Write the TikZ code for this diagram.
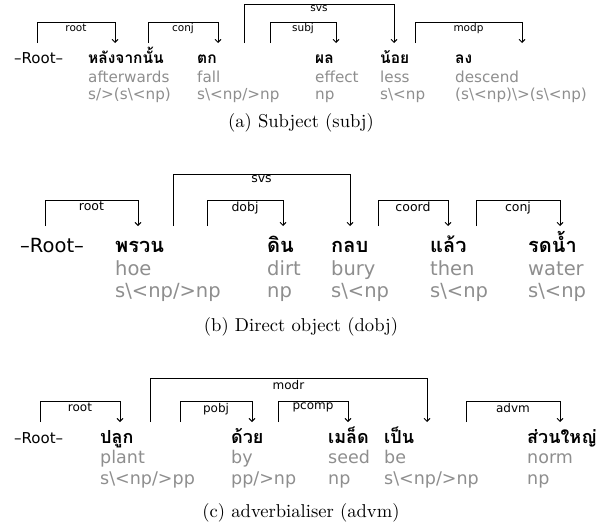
\documentclass[tikz,border=0pt]{standalone}
\usepackage{fontspec}
\newfontfamily\wf{DejaVu Sans}
\newfontfamily\thai[Script=Thai]{Loma}
\usetikzlibrary{arrows.meta}
\definecolor{glossgray}{HTML}{8E8E8E}
\tikzset{
  deparc/.style={line width=0.9pt, -{Straight Barb[length=3pt,width=6pt]}},
  arclab/.style={anchor=north, inner sep=1.5pt},
  word/.style={anchor=base west, inner sep=0pt},
  thw/.style={word, font=\thai\bfseries},
  gl/.style={word, text=glossgray},
  captext/.style={anchor=base, inner sep=0pt, scale=1.86, font=\fontsize{10}{12}\selectfont}
}
\newcommand\deparc[7]{%
  \coordinate (#1-t) at (#2,#4);
  \coordinate (#1-h) at (#3,#4);
  \draw[deparc] (#1-t) -- (#2,#5) -- node[arclab,font=#7] (#1-l) {#6} (#3,#5) -- (#1-h);
}
\begin{document}
\begin{tikzpicture}[x=1pt,y={(0pt,-1pt)}]
\useasboundingbox (0,0) rectangle (603,530);
% ---------- (a)
\begin{scope}
\def\fa{\wf\fontsize{15.2}{18}\selectfont}
\def\la{\wf\fontsize{10.5}{12}\selectfont}
\def\ta{\thai\bfseries\fontsize{15.5}{18}\selectfont}
\node[word,font=\wf\fontsize{15}{18}\selectfont] (a0) at (14,63) {–Root–};
\node[thw,font=\ta] (a1) at (88,63) {หลังจากนั้น};
\node[thw,font=\ta] (a2) at (197,63) {ตก};
\node[thw,font=\ta] (a3) at (315,63) {ผล};
\node[thw,font=\ta] (a4) at (380,63) {น้อย};
\node[thw,font=\ta] (a5) at (455,63) {ลง};
\node[gl,font=\fa] (a1g) at (88,82) {afterwards};
\node[gl,font=\fa] (a2g) at (197,82) {fall};
\node[gl,font=\fa] (a3g) at (315,82) {effect};
\node[gl,font=\fa] (a4g) at (380,82) {less};
\node[gl,font=\fa] (a5g) at (455,82) {descend};
\node[gl,font=\fa] (a1c) at (88,99) {s/>(s\textbackslash<np)};
\node[gl,font=\fa] (a2c) at (197,99) {s\textbackslash<np/>np};
\node[gl,font=\fa] (a3c) at (315,99) {np};
\node[gl,font=\fa] (a4c) at (380,99) {s\textbackslash<np};
\node[gl,font=\fa] (a5c) at (455,99) {(s\textbackslash<np)\textbackslash>(s\textbackslash<np)};
\deparc{aroot}{37}{115}{43}{22}{root}{\la}
\deparc{aconj}{148}{218}{43}{22}{conj}{\la}
\deparc{asvs}{244}{394}{43}{4}{svs}{\la}
\deparc{asubj}{270}{336}{43}{22}{subj}{\la}
\deparc{amodp}{415}{522}{43}{22}{modp}{\la}
\node[captext] (capa) at (301,127) {(a) Subject (subj)};
\end{scope}
% ---------- (b)
\begin{scope}
\def\fb{\wf\fontsize{19.5}{22}\selectfont}
\def\lb{\wf\fontsize{12.5}{14}\selectfont}
\def\tb{\thai\bfseries\fontsize{20}{22}\selectfont}
\node[word,font=\fb] (b0) at (20,252) {–Root–};
\node[thw,font=\tb] (b1) at (115,252) {พรวน};
\node[thw,font=\tb] (b2) at (267,252) {ดิน};
\node[thw,font=\tb] (b3) at (331,252) {กลบ};
\node[thw,font=\tb] (b4) at (430,252) {แล้ว};
\node[thw,font=\tb] (b5) at (528,252) {รดน้ำ};
\node[gl,font=\fb] (b1g) at (115,275) {hoe};
\node[gl,font=\fb] (b2g) at (267,275) {dirt};
\node[gl,font=\fb] (b3g) at (331,275) {bury};
\node[gl,font=\fb] (b4g) at (430,275) {then};
\node[gl,font=\fb] (b5g) at (528,275) {water};
\node[gl,font=\fb] (b1c) at (115,297) {s\textbackslash<np/>np};
\node[gl,font=\fb] (b2c) at (267,297) {np};
\node[gl,font=\fb] (b3c) at (331,297) {s\textbackslash<np};
\node[gl,font=\fb] (b4c) at (430,297) {s\textbackslash<np};
\node[gl,font=\fb] (b5c) at (528,297) {s\textbackslash<np};
\deparc{broot}{45}{138}{226}{200}{root}{\lb}
\deparc{bsvs}{173}{350}{226}{174}{svs}{\lb}
\deparc{bdobj}{207}{283}{226}{200}{dobj}{\lb}
\deparc{bcoord}{378}{448}{226}{200}{coord}{\lb}
\deparc{bconj}{476}{560}{226}{200}{conj}{\lb}
\node[captext] (capb) at (301,331) {(b) Direct object (dobj)};
\end{scope}
% ---------- (c)
\begin{scope}
\def\fc{\wf\fontsize{17.5}{20}\selectfont}
\def\lc{\wf\fontsize{12}{14}\selectfont}
\def\tc{\thai\bfseries\fontsize{18}{20}\selectfont}
\node[word,font=\wf\fontsize{15}{18}\selectfont] (c0) at (14,443) {–Root–};
\node[thw,font=\tc] (c1) at (100,443) {ปลูก};
\node[thw,font=\tc] (c2) at (231,443) {ด้วย};
\node[thw,font=\tc] (c3) at (328,443) {เมล็ด};
\node[thw,font=\tc] (c4) at (384,443) {เป็น};
\node[thw,font=\tc] (c5) at (527,443) {ส่วนใหญ่};
\node[gl,font=\fc] (c1g) at (100,463) {plant};
\node[gl,font=\fc] (c2g) at (231,463) {by};
\node[gl,font=\fc] (c3g) at (328,463) {seed};
\node[gl,font=\fc] (c4g) at (384,463) {be};
\node[gl,font=\fc] (c5g) at (527,463) {norm};
\node[gl,font=\fc] (c1c) at (100,484) {s\textbackslash<np/>pp};
\node[gl,font=\fc] (c2c) at (231,484) {pp/>np};
\node[gl,font=\fc] (c3c) at (328,484) {np};
\node[gl,font=\fc] (c4c) at (384,484) {s\textbackslash<np/>np};
\node[gl,font=\fc] (c5c) at (527,484) {np};
\deparc{croot}{40}{120}{422}{401}{root}{\lc}
\deparc{cmodr}{150}{427}{422}{378}{modr}{\lc}
\deparc{cpobj}{180}{252}{422}{401}{pobj}{\lc}
\deparc{cpcomp}{278}{348}{422}{401}{pcomp}{\lc}
\deparc{cadvm}{466}{560}{422}{401}{advm}{\lc}
\node[captext] (capc) at (301,517) {(c) adverbialiser (advm)};
\end{scope}
\end{tikzpicture}
\end{document}
